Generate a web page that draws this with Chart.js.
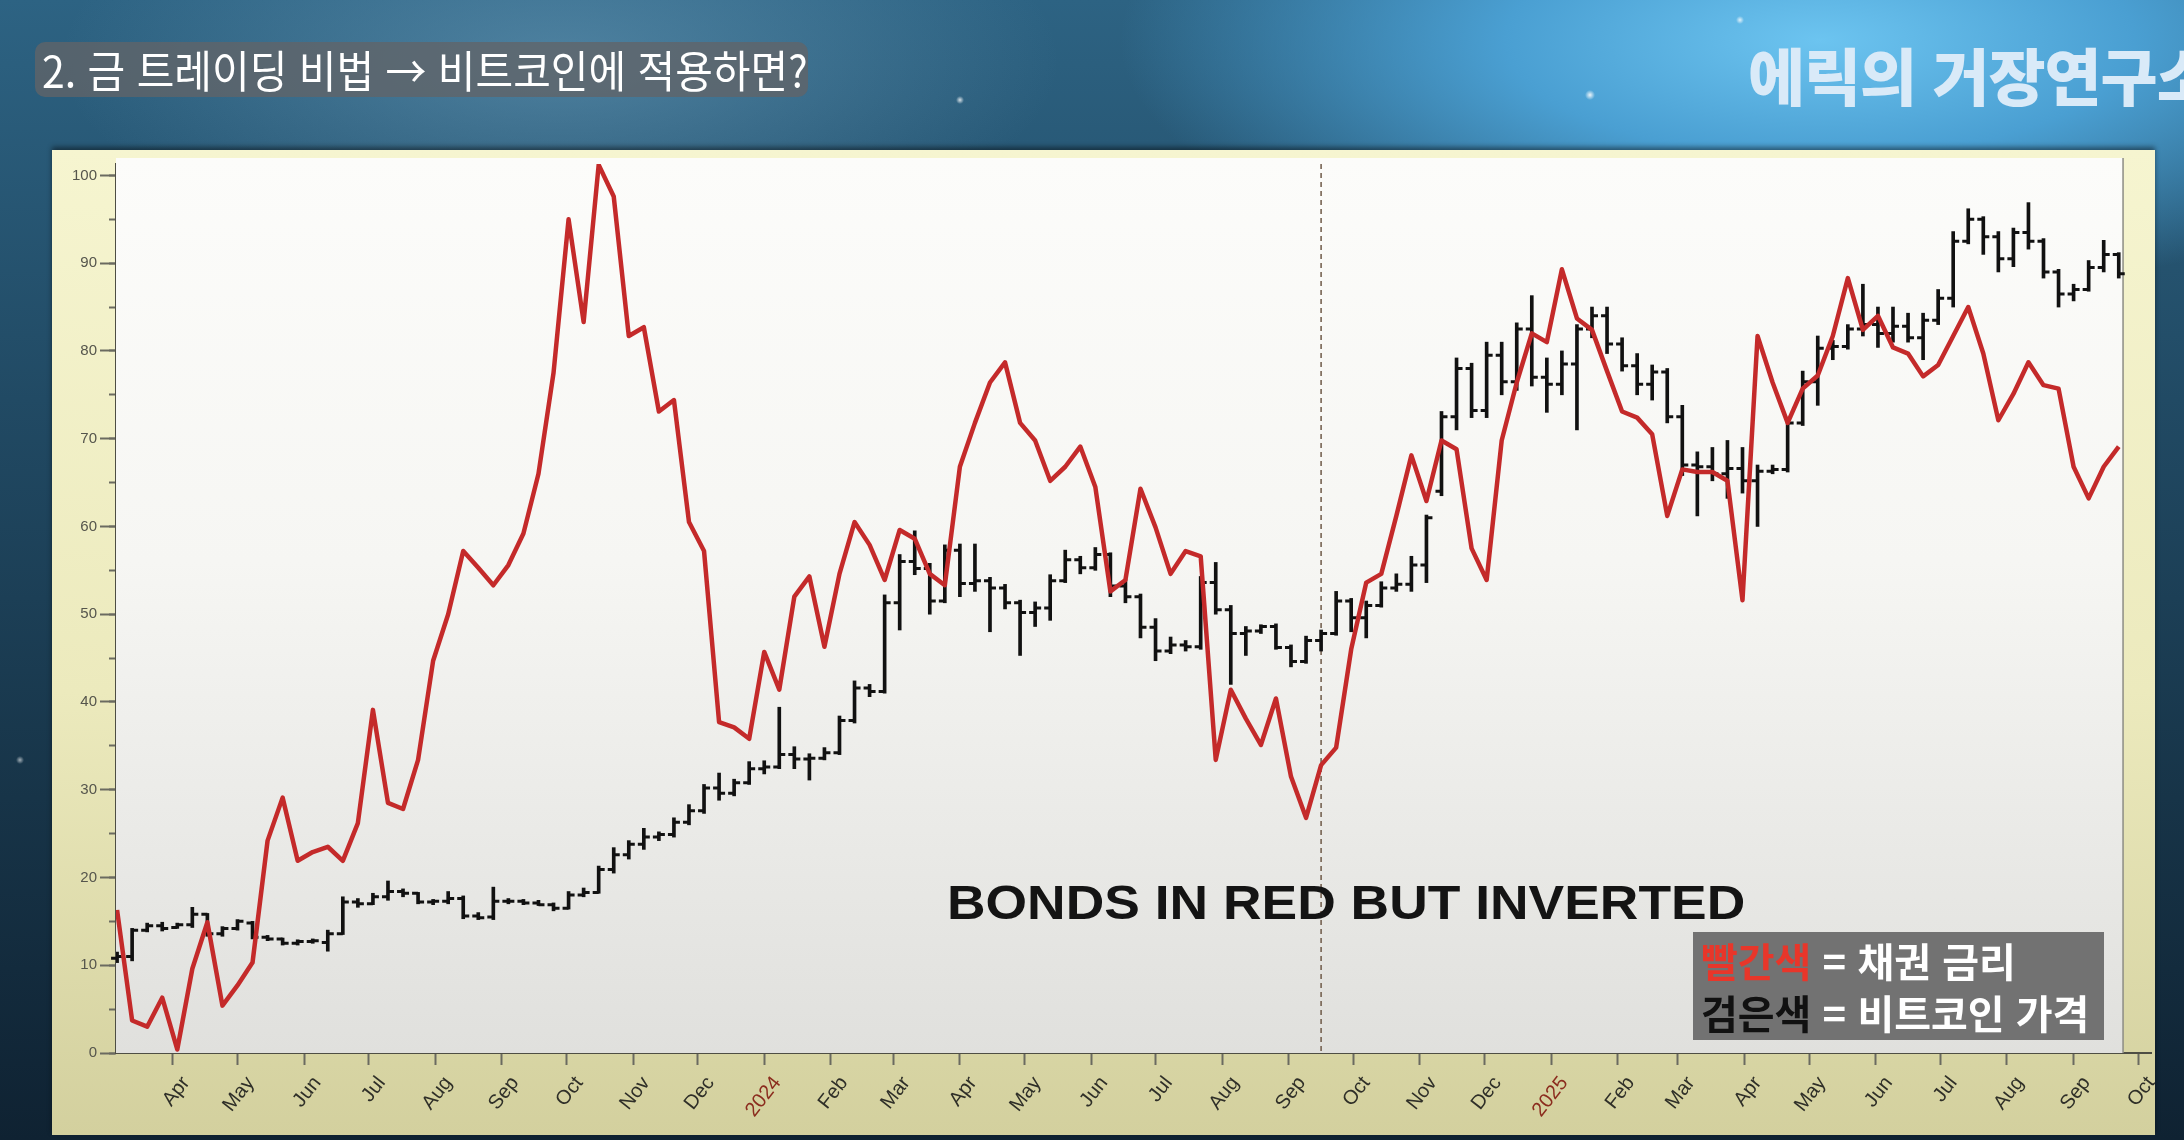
<!DOCTYPE html>
<html lang="ko">
<head>
<meta charset="utf-8">
<title>Bonds in red but inverted vs Bitcoin</title>
<script src="https://cdn.jsdelivr.net/npm/chart.js@4.4.1/dist/chart.umd.min.js"></script>
<style>
    html, body { margin: 0; padding: 0; }
    body {
        width: 2184px; height: 1140px; overflow: hidden; position: relative;
        font-family: "Noto Sans CJK KR", "Noto Sans", sans-serif;
        background:
            radial-gradient(circle at 1590px 95px, rgba(255,255,255,0.9) 0, rgba(255,255,255,0) 5px),
            radial-gradient(circle at 960px 100px, rgba(255,255,255,0.8) 0, rgba(255,255,255,0) 4px),
            radial-gradient(circle at 1740px 20px, rgba(255,255,255,0.8) 0, rgba(255,255,255,0) 4px),
            radial-gradient(circle at 20px 760px, rgba(255,255,255,0.6) 0, rgba(255,255,255,0) 4px),
            radial-gradient(ellipse 700px 260px at 1820px 40px, #6cc4f0 0%, #4a9fd2 45%, rgba(60,130,180,0) 100%),
            radial-gradient(ellipse 500px 200px at 560px 60px, rgba(120,170,200,0.45) 0%, rgba(120,170,200,0) 100%),
            linear-gradient(180deg, #2d6383 0%, #214a64 35%, #173448 70%, #0f2232 100%);
    }
    #panel {
        position: absolute; left: 52px; top: 150px; width: 2103px; height: 985px;
        background: linear-gradient(180deg, #f6f5d0 0%, #eceabd 55%, #d3d09e 100%);
        box-shadow: 0 -3px 5px rgba(0,0,0,0.45);
    }
    #chart { position: absolute; left: 0; top: 0; }
    #title {
        position: absolute; left: 35px; top: 42px; width: 766px; height: 55px;
        padding-left: 7px; border-radius: 10px; overflow: hidden;
        background: rgba(98, 100, 104, 0.78);
        color: #ffffff; font-size: 44px; line-height: 55px; white-space: nowrap;
    }
    #title span { display: inline-block; transform: scaleX(0.93); transform-origin: left center; }
    #brand {
        position: absolute; left: 1748px; top: 40px;
        color: #d9eaf8; font-size: 62px; font-weight: 900; line-height: 68px;
        letter-spacing: -1px; white-space: nowrap;
    }
    #note {
        position: absolute; left: 947px; top: 878px;
        font-family: "Liberation Sans", Arial, sans-serif; font-weight: bold;
        font-size: 49px; line-height: 49px; color: #141414; white-space: nowrap;
        transform: scaleX(1.09); transform-origin: left center;
    }
    #legendBox {
        position: absolute; left: 1693px; top: 932px; width: 403px; height: 106px;
        padding: 2px 0 0 8px;
        background: rgba(104, 104, 104, 0.92);
        font-size: 40px; font-weight: 700; line-height: 52px; color: #ffffff; white-space: nowrap;
    }
    #legendBox .red { color: #e8362a; }
    #legendBox .black { color: #111111; }
</style>
</head>
<body>
<div id="panel"></div>
<canvas id="chart" width="2184" height="1140"></canvas>
<div id="title"><span>2. 금 트레이딩 비법 → 비트코인에 적용하면?</span></div>
<div id="brand">에릭의 거장연구소</div>
<div id="note">BONDS IN RED BUT INVERTED</div>
<div id="legendBox">
    <div><span class="red">빨간색</span> = 채권 금리</div>
    <div><span class="black">검은색</span> = 비트코인 가격</div>
</div>
<script>
// weekly bars, first week starts on this date
const firstWeek = '2023-03-06';

// red line: bond yields, inverted (0-100 scale)
const bondsInverted = [
    16.3, 3.7, 3.0, 6.3, 0.4, 9.6, 14.9, 5.4, 7.7, 10.3,
    24.2, 29.1, 21.9, 22.9, 23.5, 21.9, 26.2, 39.1, 28.5, 27.8,
    33.4, 44.7, 50, 57.2, 55.3, 53.3, 55.6, 59.2, 66, 77.5,
    95, 83.3, 101.2, 97.6, 81.7, 82.7, 73.1, 74.4, 60.5, 57.2,
    37.7, 37.1, 35.8, 45.7, 41.4, 52, 54.3, 46.3, 54.6, 60.5,
    57.9, 53.9, 59.6, 58.6, 54.6, 53.3, 66.8, 71.8, 76.4, 78.7,
    71.8, 69.8, 65.2, 66.8, 69.1, 64.5, 52.6, 53.9, 64.3, 59.9,
    54.6, 57.2, 56.6, 33.4, 41.4, 38.1, 35.1, 40.4, 31.5, 26.8,
    32.8, 34.8, 46, 53.6, 54.6, 61.2, 68.1, 62.9, 69.8, 68.8,
    57.5, 53.9, 69.8, 76.4, 82, 81, 89.3, 83.7, 82.4, 77.7,
    73.1, 72.4, 70.5, 61.2, 66.5, 66.2, 66.2, 65.2, 51.6, 81.7,
    76.4, 71.8, 75.7, 77.2, 81.7, 88.3, 82.4, 84, 80.4, 79.7,
    77.1, 78.4, 81.7, 85, 79.7, 72.1, 75.1, 78.7, 76.1, 75.7,
    66.8, 63.2, 66.8, 69.1
];

// black bars: bitcoin price, weekly open / high / low / close
const btcOpen = [
    10.8, 11, 14, 14.5, 14.3, 14.6, 15.8, 13.6, 14.2, 14.8,
    13.2, 13, 12.5, 12.7, 12.6, 13.6, 17.2, 17, 17.8, 18.4,
    18.2, 17.2, 17.3, 17.6, 15.6, 15.5, 17.3, 17.3, 17.1, 16.9,
    16.5, 18, 18.3, 20.9, 22.6, 23.8, 24.6, 24.9, 26.3, 27.6,
    30.2, 29.6, 30.8, 32.4, 32.6, 34, 33.5, 33.6, 34.2, 37.9,
    41.6, 41.2, 51.3, 56, 55.2, 51.5, 57.3, 53.5, 53.8, 53,
    51.3, 50.2, 50.7, 53.8, 56.2, 55.3, 56.8, 53.2, 52, 48.5,
    45.8, 46.5, 46.3, 53.6, 50.5, 47.8, 48.1, 48.6, 46.2, 44.6,
    47, 47.8, 51.5, 49.6, 51, 53, 53.4, 55.6, 64, 72.5,
    78, 73.2, 79.5, 76.5, 82.5, 77, 76.2, 78.5, 82.5, 84,
    80.8, 78.3, 76.2, 77.6, 72.5, 67, 66.8, 66, 66.6, 65.2,
    66.3, 66.5, 71.8, 76.5, 80.3, 80.5, 82.5, 83, 82, 82.8,
    81.5, 83.5, 86, 92.5, 95, 93, 90.5, 93.5, 92.5, 89,
    86.5, 87, 89.5, 91
];
const btcHigh = [
    11.5, 14.2, 14.8, 14.9, 14.8, 16.6, 15.9, 14.4, 15.2, 15,
    13.4, 13.1, 12.9, 13, 14, 17.8, 17.6, 18.2, 19.6, 18.7,
    18.3, 17.5, 18.4, 17.9, 16, 18.9, 17.6, 17.5, 17.4, 17.1,
    18.4, 18.8, 21.3, 23.4, 24.2, 25.6, 25.2, 26.8, 28.3, 30.6,
    31.9, 31.2, 33.2, 33.3, 39.4, 34.9, 34.1, 34.8, 38.4, 42.4,
    42, 52.2, 56.8, 59.5, 55.8, 57.9, 58, 58, 54.2, 53.4,
    51.6, 51.4, 54.5, 57.3, 56.6, 57.6, 57, 54, 52.3, 49.5,
    47.4, 47, 54.3, 55.9, 51, 48.6, 48.8, 48.9, 46.5, 47.5,
    48.2, 52.6, 51.8, 51.5, 53.7, 54.6, 56.6, 61.3, 73.1, 79.2,
    78.6, 81, 81, 83.2, 86.3, 79.2, 80, 83, 85, 85,
    81.5, 79.7, 78.4, 78, 73.8, 68.5, 69, 69.8, 69, 67,
    67, 72.4, 77.7, 81.7, 81.2, 83, 87.6, 85, 85, 84.3,
    84.3, 87, 93.6, 96.2, 95.3, 93.6, 94, 96.9, 92.8, 89.3,
    87.6, 90.3, 92.6, 91.2
];
const btcLow = [
    10.3, 10.5, 13.8, 13.9, 14.2, 14.3, 13.3, 13.3, 14, 13,
    12.8, 12.3, 12.3, 12.5, 11.6, 13.5, 16.6, 16.9, 17.4, 17.8,
    17, 16.9, 17, 15.3, 15.2, 15.2, 17, 16.9, 16.8, 16.2,
    16.4, 17.8, 18.2, 20.5, 22.1, 23.2, 24.2, 24.6, 26, 27.3,
    28.8, 29.3, 30.6, 31.8, 32.4, 32.4, 31.1, 33.4, 34, 37.6,
    40.6, 41, 48.2, 54.5, 50, 51.3, 52, 52.6, 48, 50.6,
    45.3, 48.6, 49.3, 53.6, 54.6, 55, 52, 51.3, 47.3, 44.7,
    45.5, 45.8, 46, 50, 42, 45.3, 47.8, 46, 44, 44.4,
    45.8, 47.6, 48, 47.3, 50.8, 52.6, 52.6, 53.6, 63.5, 71,
    72.4, 72.4, 75, 75.5, 76, 73, 75, 71, 81.5, 79.7,
    77.7, 75, 74.4, 71.8, 65.8, 61.2, 65.2, 63.2, 63.8, 60,
    66, 66.2, 71.5, 73.8, 79, 80.2, 81.7, 80.4, 81, 81,
    79, 83, 85, 92.2, 91, 89, 89.6, 91.6, 88.3, 85,
    85.7, 86.8, 89, 88.3
];
const btcClose = [
    11, 14, 14.5, 14.2, 14.6, 15.8, 13.6, 14.2, 15, 13.2,
    13, 12.5, 12.7, 12.8, 13.6, 17.2, 17, 17.8, 18.4, 18.2,
    17.2, 17.3, 17.6, 15.6, 15.4, 17.3, 17.3, 17.1, 16.9, 16.5,
    18, 18.3, 20.9, 22.6, 23.8, 24.6, 24.9, 26.3, 27.6, 30.2,
    29.6, 30.8, 32.4, 32.6, 34, 33.5, 33.6, 34.2, 37.9, 41.6,
    41.2, 51.3, 56, 55.2, 51.5, 57.3, 53.5, 53.8, 53, 51.3,
    50.2, 50.7, 53.8, 56.2, 55.3, 56.8, 53.2, 52, 48.5, 45.8,
    46.5, 46.3, 53.6, 50.5, 47.8, 48.1, 48.6, 46.2, 44.6, 47,
    47.8, 51.5, 49.6, 51, 53, 53.4, 55.6, 61, 72.5, 78,
    73.2, 79.5, 76.5, 82.5, 77, 76.2, 78.5, 82.5, 84, 80.8,
    78.3, 76.2, 77.6, 72.5, 67, 66.8, 66, 66.6, 65.2, 66.3,
    66.5, 71.8, 76.5, 80.3, 80.5, 82.5, 83, 82, 82.8, 81.5,
    83.5, 86, 92.5, 95, 93, 90.5, 93.5, 92.5, 89, 86.5,
    87, 89.5, 91, 88.8
];

// month ticks on the date axis
const tickDates = [
    '2023-04-01', '2023-05-01', '2023-06-01', '2023-07-01', '2023-08-01', '2023-09-01',
    '2023-10-01', '2023-11-01', '2023-12-01', '2024-01-01', '2024-02-01', '2024-03-01',
    '2024-04-01', '2024-05-01', '2024-06-01', '2024-07-01', '2024-08-01', '2024-09-01',
    '2024-10-01', '2024-11-01', '2024-12-01', '2025-01-01', '2025-02-01', '2025-03-01',
    '2025-04-01', '2025-05-01', '2025-06-01', '2025-07-01', '2025-08-01', '2025-09-01',
    '2025-10-01'
];
const tickLabels = [
    'Apr', 'May', 'Jun', 'Jul', 'Aug', 'Sep', 'Oct', 'Nov', 'Dec', '2024', 'Feb', 'Mar',
    'Apr', 'May', 'Jun', 'Jul', 'Aug', 'Sep', 'Oct', 'Nov', 'Dec', '2025', 'Feb', 'Mar',
    'Apr', 'May', 'Jun', 'Jul', 'Aug', 'Sep', 'Oct'
];

const markerDate = '2024-09-16';   // dashed vertical line
const plotEndDate = '2025-09-24';  // right frame of the plot

const dayOf = (s) => (Date.parse(s + 'T00:00:00Z') - Date.parse('2023-01-01T00:00:00Z')) / 86400000;
const weekDays = bondsInverted.map((v, i) => dayOf(firstWeek) + 7 * i);
const tickDays = tickDates.map(dayOf);

const plotFrame = {
    id: 'plotFrame',
    beforeDatasetsDraw: (chart) => {
        const { ctx, chartArea, scales } = chart;
        const right = scales.x.getPixelForValue(dayOf(plotEndDate));
        const top = chartArea.top - 6;
        const grad = ctx.createLinearGradient(0, top, 0, chartArea.bottom);
        grad.addColorStop(0, '#fcfcfa');
        grad.addColorStop(0.45, '#f6f6f3');
        grad.addColorStop(1, '#e0e0dd');
        ctx.save();
        ctx.fillStyle = grad;
        ctx.fillRect(chartArea.left, top, right - chartArea.left, chartArea.bottom - top);

        ctx.strokeStyle = '#8c8c84';
        ctx.lineWidth = 1.5;
        ctx.beginPath();
        ctx.moveTo(right, top);
        ctx.lineTo(right, chartArea.bottom);
        ctx.stroke();

        const mx = scales.x.getPixelForValue(dayOf(markerDate));
        ctx.strokeStyle = '#6e5a48';
        ctx.lineWidth = 1.5;
        ctx.setLineDash([5, 4]);
        ctx.beginPath();
        ctx.moveTo(mx, chartArea.top);
        ctx.lineTo(mx, chartArea.bottom);
        ctx.stroke();
        ctx.restore();
    }
};

// open tick to the left, close tick to the right of each high-low bar
const ohlcTicks = {
    id: 'ohlcTicks',
    afterDatasetDraw: (chart, args) => {
        if (args.index !== 0) return;
        const { ctx } = chart;
        const y = chart.scales.y;
        ctx.save();
        ctx.strokeStyle = '#111111';
        ctx.lineWidth = 3;
        args.meta.data.forEach((bar, i) => {
            const yo = y.getPixelForValue(btcOpen[i]);
            const yc = y.getPixelForValue(btcClose[i]);
            ctx.beginPath();
            ctx.moveTo(bar.x - 6, yo);
            ctx.lineTo(bar.x, yo);
            ctx.moveTo(bar.x, yc);
            ctx.lineTo(bar.x + 6, yc);
            ctx.stroke();
        });
        ctx.restore();
    }
};

new Chart(document.getElementById('chart'), {
    type: 'bar',
    data: {
        datasets: [
            {
                type: 'bar',
                label: '비트코인 가격',
                data: weekDays.map((d, i) => ({ x: d, y: [btcLow[i], btcHigh[i]] })),
                backgroundColor: '#111111',
                barThickness: 3,
                grouped: false,
                order: 1
            },
            {
                type: 'line',
                label: '채권 금리 (inverted)',
                data: weekDays.map((d, i) => ({ x: d, y: bondsInverted[i] })),
                borderColor: '#c42a2a',
                borderWidth: 4.5,
                pointRadius: 0,
                tension: 0,
                borderJoinStyle: 'round',
                order: 0
            }
        ]
    },
    options: {
        responsive: false,
        animation: false,
        layout: { padding: { left: 0, right: 33, top: 164, bottom: 0 } },
        plugins: {
            legend: { display: false },
            tooltip: { enabled: false }
        },
        scales: {
            x: {
                type: 'linear',
                min: 63.5,
                max: 1010,
                offset: false,
                afterBuildTicks: (scale) => { scale.ticks = tickDays.map(v => ({ value: v })); },
                afterFit: (scale) => { scale.height = 87; },
                grid: { offset: false, drawOnChartArea: false, tickLength: 12, tickColor: '#6a6a60', tickWidth: 2 },
                border: { color: '#4e4e44', width: 2 },
                ticks: {
                    minRotation: 52,
                    maxRotation: 52,
                    autoSkip: false,
                    padding: 7,
                    labelOffset: 13,
                    font: { family: 'Liberation Sans', size: 20 },
                    color: (c) => /^\d{4}$/.test(tickLabels[c.index]) ? '#8b2c1e' : '#2f2f28',
                    callback: (value, index) => tickLabels[index]
                }
            },
            y: {
                min: 0,
                max: 101.3,
                weight: 1,
                afterFit: (scale) => { scale.width = 116; },
                grid: { drawOnChartArea: false, tickLength: 16, tickColor: '#6a6a60', tickWidth: 2 },
                border: { color: '#4e4e44', width: 2 },
                ticks: {
                    stepSize: 10,
                    includeBounds: false,
                    padding: 3,
                    font: { family: 'Liberation Sans', size: 15 },
                    color: '#55554c'
                }
            },
            y2: {
                position: 'left',
                min: 0,
                max: 101.3,
                weight: 0,
                afterFit: (scale) => { scale.width = 0; },
                grid: { drawOnChartArea: false, tickLength: 7, tickColor: '#6a6a60', tickWidth: 2 },
                border: { display: false },
                ticks: { stepSize: 5, includeBounds: false, display: false }
            }
        }
    },
    plugins: [plotFrame, ohlcTicks]
});
</script>
</body>
</html>
